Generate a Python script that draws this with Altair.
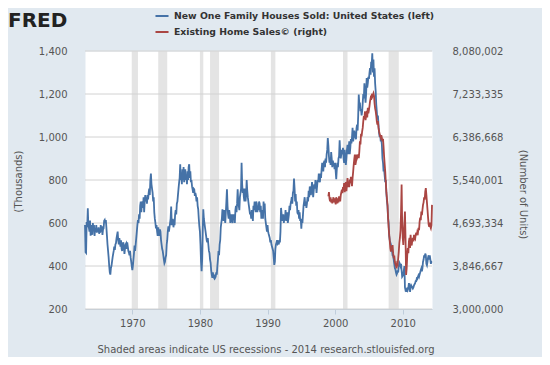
import altair as alt
import pandas as pd

SERIES = ["New One Family Houses Sold: United States (left)", "Existing Home Sales\u00a9 (right)"]
COLORS = ["#4572a7", "#aa4643"]

# New One Family Houses Sold (thousands), monthly from 1963-01
NEW_HOME_SALES = [
    591, 464, 461, 605, 586, 668, 585, 577, 560, 611, 541, 590,
    580, 545, 600, 565, 590, 540, 575, 560, 590, 555, 570, 560,
    580, 550, 565, 555, 590, 560, 585, 545, 570, 575, 610, 614,
    600, 614, 580, 540, 500, 470, 440, 400, 370, 360, 390, 400,
    420, 440, 455, 470, 490, 475, 500, 506, 530, 545, 560, 520,
    500, 530, 510, 490, 520, 480, 470, 500, 510, 490, 456, 480,
    500, 505, 480, 510, 490, 470, 462, 450, 470, 440, 420, 400,
    381, 400, 430, 460, 495, 470, 500, 530, 560, 590, 614, 600,
    640, 620, 680, 700, 650, 690, 700, 670, 720, 650, 700, 730,
    700, 720, 690, 730, 710, 740, 760, 730, 800, 830, 780, 760,
    740, 700, 720, 650, 620, 600, 575, 590, 560, 540, 580, 560,
    540, 570, 560, 520, 500, 480, 470, 450, 430, 413, 420, 440,
    450, 500, 520, 560, 584, 560, 580, 600, 620, 677, 590, 600,
    620, 580, 600, 590, 640, 660, 640, 690, 700, 730, 760, 787,
    810, 873, 800, 830, 780, 850, 800, 860, 790, 820, 850, 800,
    820, 780, 840, 800, 860, 873, 810, 840, 790, 800, 770, 757,
    740, 760, 757, 726, 740, 726, 700, 720, 680, 664, 620, 584,
    560, 500, 420, 376, 430, 560, 664, 620, 600, 580, 560, 540,
    520, 510, 530, 500, 470, 460, 430, 415, 380, 360, 345, 370,
    350, 345, 360, 345, 350, 370, 360, 400, 430, 470, 450, 500,
    520, 580, 600, 620, 664, 640, 610, 660, 620, 600, 650, 700,
    757, 680, 640, 620, 660, 640, 600, 620, 640, 610, 600, 640,
    620, 640, 600, 660, 680, 650, 690, 757, 700, 680, 660, 720,
    740, 760, 880, 780, 740, 760, 720, 700, 760, 700, 730, 800,
    750, 720, 700, 680, 660, 640, 650, 620, 660, 640, 610, 680,
    660, 700, 680, 650, 700, 690, 650, 680, 660, 700, 690, 650,
    680, 620, 660, 640, 620, 700, 650, 690, 620, 600, 580, 560,
    590, 560, 550, 540, 530, 510, 520, 500, 490, 480, 470, 440,
    405, 420, 480, 500, 510, 520, 505, 510, 500, 520, 510, 560,
    670, 640, 610, 620, 640, 600, 630, 620, 660, 610, 640, 650,
    600, 620, 640, 680, 660, 690, 700, 720, 690, 740, 750, 807,
    760, 700, 735, 680, 700, 650, 640, 660, 620, 650, 610, 620,
    574, 620, 600, 640, 680, 700, 720, 680, 700, 670, 690, 720,
    700, 750, 720, 770, 740, 730, 760, 790, 760, 720, 750, 780,
    760, 800, 780, 740, 770, 800, 790, 830, 800, 790, 830, 810,
    850, 880, 860, 840, 880, 890, 860, 900, 880, 920, 940, 995,
    960, 910, 880, 900, 870, 930, 900, 860, 890, 870, 880, 850,
    880, 840, 804, 850, 880, 860, 900, 910, 985, 930, 900, 920,
    940, 920, 950, 900, 880, 940, 900, 870, 900, 940, 964, 920,
    940, 980, 920, 950, 990, 970, 1000, 1043, 980, 1000, 1030, 1010,
    1000, 990, 1040, 1057, 1030, 1100, 1197, 1150, 1160, 1120, 1130, 1100,
    1120, 1160, 1200, 1180, 1250, 1200, 1160, 1200, 1274, 1230, 1250, 1280,
    1270, 1300, 1320, 1290, 1350, 1340, 1389, 1300, 1360, 1280, 1320, 1250,
    1213, 1150, 1119, 1080, 1100, 1057, 1020, 1000, 1010, 980, 990, 964,
    900, 880, 840, 850, 820, 790, 800, 740, 700, 680, 620, 600,
    540, 520, 510, 500, 480, 470, 450, 447, 430, 410, 390, 385,
    370, 360, 365, 380, 370, 400, 416, 410, 400, 410, 380, 350,
    354, 360, 380, 400, 300, 287, 290, 280, 300, 290, 300, 320,
    311, 280, 300, 310, 305, 300, 295, 300, 310, 315, 320, 330,
    330, 342, 340, 350, 357, 350, 360, 370, 380, 388, 375, 390,
    420, 430, 450, 440, 458, 450, 410, 403, 420, 440, 450, 430,
    450, 430, 410, 420, 419,
]

# Existing Home Sales (millions of units), monthly from 1999-01
EXISTING_HOME_SALES_M = [
    5.22, 5.30, 5.18, 5.12, 5.20, 5.10, 5.16, 5.08, 5.14, 5.20, 5.10, 5.18,
    5.12, 5.06, 5.20, 5.14, 5.08, 5.18, 5.10, 5.22, 5.16, 5.12, 5.24, 5.30,
    5.35, 5.28, 5.40, 5.36, 5.48, 5.30, 5.42, 5.50, 5.32, 5.45, 5.58, 5.40,
    5.45, 5.40, 5.55, 5.48, 5.60, 5.50, 5.42, 5.58, 5.70, 5.84, 5.95, 6.04,
    5.84, 5.90, 6.04, 5.97, 6.00, 6.04, 5.97, 6.10, 6.30, 6.24, 6.45, 6.40,
    6.50, 6.57, 6.70, 6.80, 6.75, 6.89, 6.72, 6.80, 6.90, 6.77, 6.96, 6.85,
    6.92, 7.00, 7.09, 7.15, 7.12, 7.20, 7.18, 7.22, 7.25, 7.20, 7.05, 6.95,
    6.89, 6.80, 6.70, 6.63, 6.70, 6.57, 6.50, 6.45, 6.40, 6.37, 6.42, 6.37,
    6.30, 6.35, 6.20, 6.00, 5.85, 5.70, 5.50, 5.30, 5.18, 5.05, 4.80, 4.60,
    4.46, 4.33, 4.20, 4.13, 4.25, 4.18, 4.26, 4.10, 4.00, 4.05, 3.93, 3.88,
    3.85, 3.80, 3.90, 3.88, 4.00, 4.13, 4.30, 4.40, 4.55, 4.90, 5.45, 4.70,
    4.40, 4.26, 4.45, 4.70, 4.92, 4.40, 3.67, 3.80, 4.05, 4.20, 4.10, 4.33,
    4.40, 4.20, 4.46, 4.30, 4.25, 4.35, 4.40, 4.33, 4.46, 4.40, 4.38, 4.46,
    4.50, 4.45, 4.52, 4.50, 4.60, 4.55, 4.72, 4.80, 4.75, 4.92, 4.85, 4.95,
    5.05, 5.10, 5.20, 5.15, 5.31, 5.38, 5.25, 5.10, 4.95, 4.80, 4.66, 4.62,
    4.70, 4.62, 4.59, 4.65, 5.05,
]

RECESSION_START = ["1969-12-01", "1973-11-01", "1980-01-01", "1981-07-01", "1990-07-01", "2001-03-01", "2007-12-01"]
RECESSION_END = ["1970-11-01", "1975-03-01", "1980-07-01", "1982-11-01", "1991-03-01", "2001-11-01", "2009-06-01"]

LEFT_TICKS = [200, 400, 600, 800, 1000, 1200, 1400]
RIGHT_TICKS = [3000000, 3846667, 4693334, 5540001, 6386668, 7233335, 8080002]
YEAR_TICKS = [1970, 1980, 1990, 2000, 2010]

FONT = "DejaVu Sans"
W, H = 347, 258

blue_df = pd.DataFrame({
    "date": pd.date_range("1963-01-01", periods=len(NEW_HOME_SALES), freq="MS"),
    "value": NEW_HOME_SALES,
    "series": SERIES[0],
})
red_df = pd.DataFrame({
    "date": pd.date_range("1999-01-01", periods=len(EXISTING_HOME_SALES_M), freq="MS"),
    "value": [round(v * 1_000_000) for v in EXISTING_HOME_SALES_M],
    "series": SERIES[1],
})
rec_df = pd.DataFrame({"start": pd.to_datetime(RECESSION_START), "end": pd.to_datetime(RECESSION_END)})
grid_df = pd.DataFrame({"v": LEFT_TICKS})

x_scale = alt.Scale(domain=[alt.DateTime(year=1963, month=1, date=1), alt.DateTime(year=2014, month=5, date=1)], nice=False)
x_axis = alt.Axis(
    values=[alt.DateTime(year=y, month=1, date=1) for y in YEAR_TICKS],
    format="%Y", labelAngle=0, grid=False, tickSize=5, tickColor="#bfcddb",
    domainColor="#bfcddb", labelColor="#555555", labelFont=FONT, labelFontSize=10,
    labelPadding=4, title=None,
)
left_scale = alt.Scale(domain=[200, 1400], nice=False, zero=False)
right_scale = alt.Scale(domain=[3000000, 8080002], nice=False, zero=False)
color_scale = alt.Scale(domain=SERIES, range=COLORS)

legend = alt.Legend(
    orient="none", legendX=69, legendY=-43, title=None, symbolType="stroke",
    symbolStrokeWidth=2, symbolSize=170, labelFont=FONT, labelFontSize=9.3,
    labelFontWeight="bold", labelColor="#333333", rowPadding=2, labelOffset=4,
    labelLimit=500,
)

rec = alt.Chart(rec_df).mark_rect(color="#e4e4e4").encode(
    x=alt.X("start:T", scale=x_scale, axis=x_axis),
    x2="end:T",
)

grid = alt.Chart(grid_df).mark_rule(color="#d2d2d2", strokeWidth=1).encode(
    y=alt.Y("v:Q", scale=left_scale, axis=None),
)

blue = alt.Chart(blue_df).mark_line(strokeWidth=1.8).encode(
    x=alt.X("date:T", scale=x_scale, axis=x_axis),
    y=alt.Y("value:Q", scale=left_scale, axis=alt.Axis(
        orient="left", values=LEFT_TICKS, format=",.0f", grid=False, domain=False, ticks=False,
        labelPadding=18, labelColor="#555555", labelFont=FONT, labelFontSize=10,
        title="(Thousands)", titleFont=FONT, titleFontSize=10, titleFontWeight="normal",
        titleColor="#555555", titleX=-67, titleY=130, titleBaseline="middle", titleAngle=270,
    )),
    color=alt.Color("series:N", scale=color_scale, legend=legend),
)

red = alt.Chart(red_df).mark_line(strokeWidth=1.8).encode(
    x=alt.X("date:T", scale=x_scale, axis=x_axis),
    y=alt.Y("value:Q", scale=right_scale, axis=alt.Axis(
        orient="right", values=RIGHT_TICKS, format=",.0f", grid=False, domain=False, ticks=False,
        labelPadding=20, labelColor="#555555", labelFont=FONT, labelFontSize=10,
        title="(Number of Units)", titleFont=FONT, titleFontSize=10, titleFontWeight="normal",
        titleColor="#555555", titleX=90, titleY=143, titleBaseline="middle", titleAngle=90,
    )),
    color=alt.Color("series:N", scale=color_scale, legend=legend),
)

logo = alt.Chart(pd.DataFrame({"t": ["FRED"]})).mark_text(
    font=FONT, fontSize=20, fontWeight="bold", color="#222222", align="left", baseline="alphabetic",
).encode(text="t:N", x=alt.value(-77), y=alt.value(-24))

footer = alt.Chart(pd.DataFrame({"t": ["Shaded areas indicate US recessions - 2014 research.stlouisfed.org"]})).mark_text(
    font=FONT, fontSize=10, color="#555555", align="center", baseline="middle",
).encode(text="t:N", x=alt.value(181), y=alt.value(299))

chart = alt.layer(rec, grid, blue, red, logo, footer).resolve_scale(
    y="independent"
).properties(
    width=W, height=H, autosize="none",
    padding={"left": 77, "top": 43, "right": 110, "bottom": 48},
).configure(background="#e1e9f0").configure_view(fill="white", stroke="transparent")

chart.save("out.html", embed_options={"renderer": "svg", "actions": False})
